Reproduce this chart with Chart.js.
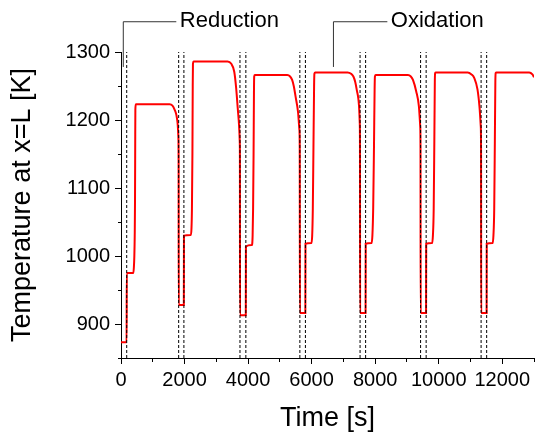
<!DOCTYPE html>
<html>
<head>
<meta charset="utf-8">
<title>Temperature at x=L</title>
<script src="https://cdn.jsdelivr.net/npm/chart.js@4.4.0/dist/chart.umd.min.js"></script>
<style>
  html, body { margin: 0; padding: 0; background: #fff; }
  #chart { display: block; }
</style>
</head>
<body>
<canvas id="chart" width="538" height="436"></canvas>
<script>
// ===================================================================
// Temperature at x=L over redox cycles (Chart.js)
// ===================================================================

// --- Data ---
// Time [s] of each point of the red trace.
const timeS = [
    // cycle 1
    0, 177, 181, 390, 405, 420, 432, 441, 447, 452, 465, 1530, 1620, 1690, 1740, 1780, 1805, 1813, 1817,
    // cycle 2
    1978, 1982, 2200, 2218, 2233, 2248, 2258, 2265, 2285, 3355, 3465, 3565, 3625, 3675, 3715, 3738, 3743, 3747,
    // cycle 3
    3928, 3932, 4118, 4143, 4158, 4173, 4185, 4193, 4213, 5233, 5323, 5387, 5443, 5493, 5574, 5615, 5626, 5632,
    // cycle 4
    5803, 5807, 5993, 6018, 6038, 6058, 6078, 6088, 6113, 7133, 7243, 7315, 7373, 7418, 7493, 7515, 7522, 7527,
    // cycle 5
    7698, 7702, 7887, 7913, 7938, 7963, 7983, 7993, 8018, 9033, 9123, 9190, 9293, 9377, 9418, 9427, 9432,
    // cycle 6
    9603, 9607, 9793, 9818, 9843, 9863, 9878, 9888, 9913, 10913, 11033, 11118, 11221, 11283, 11324, 11333, 11338,
    // cycle 7
    11508, 11512, 11699, 11723, 11748, 11768, 11783, 11793, 11818, 12850, 12950, 13000
];

// Temperature [K] at x=L, same order as timeS.
const tempK = [
    873, 873, 975, 975, 983, 1000, 1030, 1080, 1160, 1215, 1223, 1223, 1221, 1215, 1208, 1196, 1176, 1140, 928,
    928, 1030, 1031, 1040, 1070, 1150, 1250, 1283, 1286, 1286, 1283, 1271, 1247, 1217, 1193, 1168, 1140, 913,
    913, 1014, 1016, 1030, 1070, 1150, 1240, 1264, 1266, 1266, 1264, 1259, 1249, 1235, 1211, 1186, 1160, 916,
    916, 1018, 1019, 1030, 1070, 1160, 1250, 1268, 1270, 1270, 1268, 1264, 1256, 1245, 1220, 1196, 1165, 916,
    916, 1018, 1019, 1030, 1070, 1160, 1245, 1264, 1266, 1266, 1264, 1259, 1242, 1220, 1191, 1160, 916,
    916, 1018, 1019, 1030, 1070, 1170, 1255, 1269, 1270, 1270, 1267, 1262, 1245, 1220, 1191, 1160, 916,
    916, 1018, 1019, 1030, 1070, 1170, 1255, 1269, 1270, 1270, 1267, 1263
];

// Time [s] of the vertical dashed switch lines.
const switchTimeS = [180, 1815, 1980, 3745, 3930, 5630, 5805, 7525, 7700, 9430, 9605, 11335, 11510];

// Labelled ticks (the others are minor ticks).
const xTickLabels = [0, 2000, 4000, 6000, 8000, 10000, 12000];
const yTickLabels = [900, 1000, 1100, 1200, 1300];

// Callouts: leader from an anchor up to an elbow, then right to the label.
const callouts = [
    { label: 'Reduction', anchorTime: 72,   anchorTemp: 1278, elbowTemp: 1344.5, endTime: 1741 },
    { label: 'Oxidation', anchorTime: 6687, anchorTemp: 1278, elbowTemp: 1344.5, endTime: 8384 }
];

// --- Styling ---
const FONT = "'Liberation Sans', Arial, sans-serif";
Chart.defaults.font.family = FONT;
Chart.defaults.color = '#000';

// --- Helpers ---

// Builds the dashed switch lines as one dataset, broken by null gaps.
function buildSwitchLines(times) {
    const pts = [];
    times.forEach(t => {
        pts.push({ x: t, y: 850 }, { x: t, y: 1300 }, { x: t, y: null });
    });
    return pts;
}

// Minor ticks are drawn at half length by dashing the tick stroke.
function minorDash(labels, fromAxis) {
    return ctx => {
        const v = ctx.tick ? ctx.tick.value : null;
        if (v === null || labels.includes(v)) return [];
        return fromAxis ? [3, 20] : [0, 3, 3, 20];
    };
}

// Draws the "Reduction" / "Oxidation" leaders and labels.
const calloutPlugin = {
    id: 'callouts',
    afterDatasetsDraw(chart) {
        const { ctx, scales: { x, y } } = chart;
        ctx.save();
        ctx.strokeStyle = '#333';
        ctx.lineWidth = 1;
        ctx.fillStyle = '#000';
        ctx.font = `22px ${FONT}`;
        ctx.textBaseline = 'middle';
        ctx.textAlign = 'left';
        callouts.forEach(c => {
            const x0 = x.getPixelForValue(c.anchorTime);
            const y0 = y.getPixelForValue(c.anchorTemp);
            const y1 = y.getPixelForValue(c.elbowTemp);
            const x1 = x.getPixelForValue(c.endTime);
            ctx.beginPath();
            ctx.moveTo(x0, y0);
            ctx.lineTo(x0, y1);
            ctx.lineTo(x1, y1);
            ctx.stroke();
            ctx.fillText(c.label, x1 + 3.5, y1 - 1);
        });
        ctx.restore();
    }
};

// --- Chart ---
const tracePoints = timeS.map((t, i) => ({ x: t, y: tempK[i] }));

new Chart(document.getElementById('chart').getContext('2d'), {
    type: 'line',
    data: {
        datasets: [
            {
                label: 'switch',
                data: buildSwitchLines(switchTimeS),
                borderColor: '#000',
                borderWidth: 1,
                borderDash: [3, 2],
                pointRadius: 0,
                spanGaps: false,
                order: 0
            },
            {
                label: 'T(x=L)',
                data: tracePoints,
                borderColor: '#ff0000',
                borderWidth: 2,
                pointRadius: 0,
                cubicInterpolationMode: 'monotone',
                order: 1
            }
        ]
    },
    plugins: [calloutPlugin],
    options: {
        responsive: false,
        animation: false,
        devicePixelRatio: 1,
        layout: { padding: { top: 52, right: 1, left: 0, bottom: 0 } },
        plugins: { legend: { display: false }, tooltip: { enabled: false } },
        scales: {
            x: {
                type: 'linear',
                min: 0,
                max: 13000,
                afterFit: scale => { scale.height = 78; },
                border: { display: true, color: '#000', width: 1 },
                grid: {
                    display: true,
                    drawOnChartArea: false,
                    drawTicks: true,
                    tickLength: 6,
                    tickColor: '#000',
                    tickWidth: 1,
                    tickBorderDash: minorDash(xTickLabels, true)
                },
                ticks: {
                    stepSize: 1000,
                    autoSkip: false,
                    maxRotation: 0,
                    padding: 4,
                    color: '#000',
                    font: { size: 20 },
                    callback: v => xTickLabels.includes(v) ? String(v) : ''
                },
                title: {
                    display: true,
                    text: 'Time [s]',
                    color: '#000',
                    font: { size: 27 },
                    padding: { top: 0, bottom: 1 }
                }
            },
            y: {
                type: 'linear',
                min: 850,
                max: 1300,
                afterFit: scale => { scale.width = 121; },
                border: { display: true, color: '#000', width: 1 },
                grid: {
                    display: true,
                    drawOnChartArea: false,
                    drawTicks: true,
                    tickLength: 6,
                    tickColor: '#000',
                    tickWidth: 1,
                    tickBorderDash: minorDash(yTickLabels, false)
                },
                ticks: {
                    stepSize: 50,
                    autoSkip: false,
                    padding: 5,
                    color: '#000',
                    font: { size: 20 },
                    callback: v => yTickLabels.includes(v) ? String(v) : ''
                },
                title: {
                    display: true,
                    text: 'Temperature at x=L [K]',
                    color: '#000',
                    font: { size: 27 },
                    padding: { top: 6, bottom: 0 }
                }
            }
        }
    }
});
</script>
</body>
</html>
